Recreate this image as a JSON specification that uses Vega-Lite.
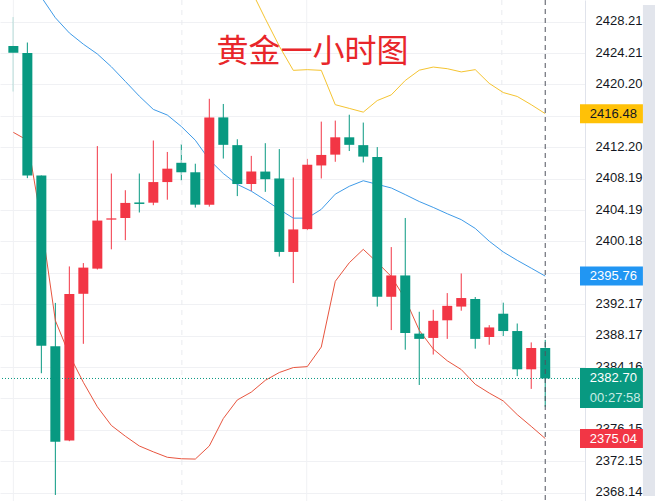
{
  "$schema": "https://vega.github.io/schema/vega-lite/v6.json",
  "width": 585,
  "height": 501,
  "autosize": {"type": "none"},
  "padding": {"left": 0, "top": 0, "right": 70, "bottom": 0},
  "background": "#ffffff",
  "config": {"view": {"stroke": null}, "font": "Liberation Sans", "axis": {"labelOverlap": false, "labelFlush": false, "labelBound": false}},
  "datasets": {
    "candles": [
      {"i": 0, "open": 2425.09, "high": 2428.80, "low": 2419.30, "close": 2424.25, "upper": 2457.84, "middle": 2435.96, "lower": 2414.09},
      {"i": 1, "open": 2424.21, "high": 2425.55, "low": 2408.25, "close": 2408.59, "upper": 2453.84, "middle": 2433.46, "lower": 2413.09},
      {"i": 2, "open": 2408.59, "high": 2408.59, "low": 2383.37, "close": 2386.87, "upper": 2460.09, "middle": 2431.34, "lower": 2402.59},
      {"i": 3, "open": 2386.80, "high": 2392.34, "low": 2367.84, "close": 2374.62, "upper": 2467.34, "middle": 2428.71, "lower": 2390.09},
      {"i": 4, "open": 2374.80, "high": 2396.99, "low": 2374.70, "close": 2393.46, "upper": 2467.84, "middle": 2426.77, "lower": 2385.71},
      {"i": 5, "open": 2393.50, "high": 2397.42, "low": 2387.12, "close": 2396.84, "upper": 2468.46, "middle": 2425.34, "lower": 2382.21},
      {"i": 6, "open": 2396.71, "high": 2412.34, "low": 2396.60, "close": 2402.84, "upper": 2469.09, "middle": 2424.09, "lower": 2379.09},
      {"i": 7, "open": 2402.96, "high": 2408.84, "low": 2399.17, "close": 2403.12, "upper": 2468.21, "middle": 2422.46, "lower": 2376.71},
      {"i": 8, "open": 2403.17, "high": 2406.71, "low": 2400.34, "close": 2405.09, "upper": 2465.84, "middle": 2420.59, "lower": 2375.34},
      {"i": 9, "open": 2405.15, "high": 2408.84, "low": 2403.87, "close": 2404.96, "upper": 2463.34, "middle": 2418.71, "lower": 2374.09},
      {"i": 10, "open": 2405.12, "high": 2413.05, "low": 2404.80, "close": 2407.75, "upper": 2460.71, "middle": 2417.02, "lower": 2373.34},
      {"i": 11, "open": 2407.75, "high": 2411.59, "low": 2405.50, "close": 2409.46, "upper": 2459.96, "middle": 2416.30, "lower": 2372.65},
      {"i": 12, "open": 2410.21, "high": 2412.59, "low": 2407.96, "close": 2409.00, "upper": 2457.21, "middle": 2414.84, "lower": 2372.46},
      {"i": 13, "open": 2409.00, "high": 2410.09, "low": 2404.50, "close": 2404.87, "upper": 2453.71, "middle": 2413.09, "lower": 2372.42},
      {"i": 14, "open": 2404.87, "high": 2418.37, "low": 2404.62, "close": 2416.00, "upper": 2447.09, "middle": 2410.59, "lower": 2374.09},
      {"i": 15, "open": 2416.00, "high": 2417.71, "low": 2410.75, "close": 2412.50, "upper": 2440.09, "middle": 2408.84, "lower": 2377.59},
      {"i": 16, "open": 2412.46, "high": 2413.21, "low": 2405.96, "close": 2407.50, "upper": 2434.96, "middle": 2407.46, "lower": 2379.96},
      {"i": 17, "open": 2407.50, "high": 2411.09, "low": 2406.59, "close": 2409.09, "upper": 2432.21, "middle": 2406.59, "lower": 2380.96},
      {"i": 18, "open": 2409.09, "high": 2412.71, "low": 2406.50, "close": 2408.12, "upper": 2428.59, "middle": 2405.46, "lower": 2382.46},
      {"i": 19, "open": 2408.21, "high": 2411.96, "low": 2398.25, "close": 2398.84, "upper": 2425.09, "middle": 2404.27, "lower": 2383.46},
      {"i": 20, "open": 2398.84, "high": 2408.34, "low": 2394.87, "close": 2401.71, "upper": 2422.00, "middle": 2403.15, "lower": 2384.09},
      {"i": 21, "open": 2401.75, "high": 2410.71, "low": 2401.62, "close": 2409.96, "upper": 2422.09, "middle": 2403.15, "lower": 2384.21},
      {"i": 22, "open": 2409.87, "high": 2415.46, "low": 2408.21, "close": 2411.21, "upper": 2422.00, "middle": 2404.27, "lower": 2386.71},
      {"i": 23, "open": 2411.25, "high": 2415.59, "low": 2410.34, "close": 2413.46, "upper": 2417.62, "middle": 2406.21, "lower": 2395.09},
      {"i": 24, "open": 2413.46, "high": 2416.34, "low": 2411.71, "close": 2412.50, "upper": 2417.15, "middle": 2407.21, "lower": 2397.46},
      {"i": 25, "open": 2412.46, "high": 2415.34, "low": 2410.25, "close": 2411.00, "upper": 2416.67, "middle": 2407.92, "lower": 2399.17},
      {"i": 26, "open": 2410.96, "high": 2412.21, "low": 2391.87, "close": 2393.12, "upper": 2418.15, "middle": 2407.46, "lower": 2397.50},
      {"i": 27, "open": 2393.12, "high": 2399.46, "low": 2388.87, "close": 2395.84, "upper": 2418.87, "middle": 2407.00, "lower": 2395.71},
      {"i": 28, "open": 2395.84, "high": 2403.17, "low": 2386.37, "close": 2388.50, "upper": 2420.71, "middle": 2406.15, "lower": 2392.84},
      {"i": 29, "open": 2388.42, "high": 2391.21, "low": 2381.87, "close": 2387.75, "upper": 2422.02, "middle": 2405.27, "lower": 2388.84},
      {"i": 30, "open": 2387.87, "high": 2391.46, "low": 2385.75, "close": 2390.05, "upper": 2422.42, "middle": 2404.52, "lower": 2386.46},
      {"i": 31, "open": 2390.12, "high": 2393.59, "low": 2387.75, "close": 2391.96, "upper": 2422.21, "middle": 2403.71, "lower": 2384.96},
      {"i": 32, "open": 2391.87, "high": 2396.09, "low": 2391.34, "close": 2392.96, "upper": 2421.80, "middle": 2402.96, "lower": 2383.84},
      {"i": 33, "open": 2392.84, "high": 2393.09, "low": 2386.50, "close": 2387.75, "upper": 2422.09, "middle": 2401.84, "lower": 2381.96},
      {"i": 34, "open": 2387.99, "high": 2389.50, "low": 2387.00, "close": 2389.21, "upper": 2420.34, "middle": 2400.21, "lower": 2380.84},
      {"i": 35, "open": 2390.96, "high": 2392.37, "low": 2388.12, "close": 2388.75, "upper": 2419.17, "middle": 2398.84, "lower": 2379.84},
      {"i": 36, "open": 2388.75, "high": 2389.71, "low": 2383.00, "close": 2383.87, "upper": 2418.67, "middle": 2397.77, "lower": 2378.09},
      {"i": 37, "open": 2383.87, "high": 2387.30, "low": 2381.37, "close": 2386.59, "upper": 2417.62, "middle": 2396.77, "lower": 2376.59},
      {"i": 38, "open": 2386.59, "high": 2387.62, "low": 2379.09, "close": 2382.70, "upper": 2416.48, "middle": 2395.76, "lower": 2375.04}
    ],
    "badges": [
      {"s": "upper", "v": 2416.48},
      {"s": "middle", "v": 2395.76},
      {"s": "lower", "v": 2375.04}
    ],
    "price": [
      {"s": "close", "v": 2382.70, "timer": "00:27:58"}
    ]
  },
  "layer": [
    {
      "data": {"name": "candles"},
      "mark": {"type": "rule", "strokeWidth": 1, "clip": true},
      "encoding": {
        "x": {"field": "i", "type": "quantitative", "scale": {"domain": [-0.597, 40.485], "nice": false, "zero": false}, "axis": null},
        "y": {
          "field": "low",
          "type": "quantitative",
          "scale": {"domain": [2367.71, 2430.335], "nice": false, "zero": false},
          "axis": {
            "orient": "right",
            "values": [2368.14, 2372.146, 2376.15, 2380.16, 2384.16, 2388.166, 2392.17, 2396.17, 2400.18, 2404.186, 2408.19, 2412.196, 2416.2, 2420.203, 2424.21, 2428.21],
            "tickCount": 40,
            "format": ".2f",
            "labelExpr": "indexof(['2416.20', '2396.17', '2380.16'], datum.label) >= 0 ? '' : datum.label",
            "title": null,
            "grid": true,
            "gridColor": "#f0f1f4",
            "ticks": false,
            "domain": true,
            "domainColor": "#e0e3eb",
            "labelPadding": 10,
            "labelOffset": -1,
            "labelFont": "Liberation Sans",
            "labelFontSize": 13,
            "labelColor": "#131722",
            "labelOverlap": false,
            "labelFlush": false,
            "labelBound": false
          }
        },
        "y2": {"field": "high"},
        "color": {"condition": {"test": "datum.close >= datum.open", "value": "#f23645"}, "value": "#089981"}
      }
    },
    {
      "data": {"values": [{"i": 0}, {"i": 20.96}]},
      "mark": {"type": "rule", "color": "#f0f1f4", "strokeWidth": 1},
      "encoding": {
        "x": {"field": "i", "type": "quantitative", "axis": null}
      }
    },
    {
      "data": {"values": [{"i": 12.04}, {"i": 34.9}]},
      "mark": {"type": "rule", "color": "#e9ebef", "strokeWidth": 1, "strokeDash": [5, 5]},
      "encoding": {
        "x": {"field": "i", "type": "quantitative", "axis": null}
      }
    },
    {
      "data": {"values": [{"t": "黄金一小时图"}]},
      "mark": {"type": "text", "font": "Noto Sans CJK SC", "fontSize": 32, "color": "#e8262a", "align": "center", "baseline": "middle"},
      "encoding": {
        "x": {"datum": 21.38, "type": "quantitative", "axis": null},
        "y": {"datum": 2424.4, "type": "quantitative"},
        "text": {"field": "t"}
      }
    },
    {
      "data": {"name": "candles"},
      "mark": {"type": "line", "color": "#f5c431", "strokeWidth": 1, "clip": true},
      "encoding": {
        "x": {"field": "i", "type": "quantitative", "axis": null},
        "y": {"field": "upper", "type": "quantitative"}
      }
    },
    {
      "data": {"name": "candles"},
      "mark": {"type": "line", "color": "#3f9be8", "strokeWidth": 1, "clip": true},
      "encoding": {
        "x": {"field": "i", "type": "quantitative", "axis": null},
        "y": {"field": "middle", "type": "quantitative"}
      }
    },
    {
      "data": {"name": "candles"},
      "mark": {"type": "line", "color": "#e8553f", "strokeWidth": 1, "clip": true},
      "encoding": {
        "x": {"field": "i", "type": "quantitative", "axis": null},
        "y": {"field": "lower", "type": "quantitative"}
      }
    },
    {
      "data": {"name": "candles"},
      "mark": {"type": "bar", "size": 10, "clip": true},
      "encoding": {
        "x": {"field": "i", "type": "quantitative", "axis": null},
        "y": {"field": "open", "type": "quantitative"},
        "y2": {"field": "close"},
        "color": {"condition": {"test": "datum.close >= datum.open", "value": "#f23645"}, "value": "#089981"}
      }
    },
    {
      "data": {"name": "price"},
      "mark": {"type": "rule", "color": "#089981", "strokeWidth": 1, "strokeDash": [1, 2]},
      "encoding": {
        "y": {"field": "v", "type": "quantitative"}
      }
    },
    {
      "data": {"values": [{"i": 38}]},
      "mark": {"type": "rule", "color": "#50535e", "strokeWidth": 1, "strokeDash": [5, 4]},
      "encoding": {
        "x": {"field": "i", "type": "quantitative", "axis": null}
      }
    },
    {
      "data": {"values": [{"k": 1}]},
      "mark": {"type": "rect", "color": "#e2e5ec"},
      "encoding": {
        "x": {"datum": 44.98, "type": "quantitative", "axis": null},
        "x2": {"datum": 46.5},
        "y": {"datum": 2367.71, "type": "quantitative"},
        "y2": {"datum": 2430.335}
      }
    },
    {
      "data": {"name": "badges"},
      "mark": {"type": "bar", "orient": "horizontal", "size": 19},
      "encoding": {
        "x": {"datum": 40.485, "type": "quantitative", "axis": null},
        "x2": {"datum": 44.98},
        "y": {"field": "v", "type": "quantitative"},
        "color": {"field": "s", "type": "nominal", "scale": {"domain": ["upper", "middle", "close", "lower"], "range": ["#ffc107", "#2196f3", "#089981", "#f23645"]}, "legend": null}
      }
    },
    {
      "data": {"name": "price"},
      "mark": {"type": "bar", "orient": "horizontal", "size": 40},
      "encoding": {
        "x": {"datum": 40.485, "type": "quantitative", "axis": null},
        "x2": {"datum": 44.98},
        "y": {"datum": 2381.5, "type": "quantitative"},
        "color": {"field": "s", "type": "nominal", "legend": null}
      }
    },
    {
      "data": {"name": "badges"},
      "mark": {"type": "text", "align": "left", "baseline": "middle", "font": "Liberation Sans", "fontSize": 13},
      "encoding": {
        "x": {"datum": 41.19, "type": "quantitative", "axis": null},
        "y": {"field": "v", "type": "quantitative"},
        "text": {"field": "v", "type": "quantitative", "format": ".2f"},
        "color": {"condition": {"test": "datum.s === 'upper'", "value": "#131722"}, "value": "#ffffff"}
      }
    },
    {
      "data": {"name": "price"},
      "mark": {"type": "text", "align": "left", "baseline": "middle", "font": "Liberation Sans", "fontSize": 13, "color": "#ffffff"},
      "encoding": {
        "x": {"datum": 41.19, "type": "quantitative", "axis": null},
        "y": {"field": "v", "type": "quantitative"},
        "text": {"field": "v", "type": "quantitative", "format": ".2f"}
      }
    },
    {
      "data": {"name": "price"},
      "mark": {"type": "text", "align": "left", "baseline": "middle", "font": "Liberation Sans", "fontSize": 13, "color": "#c8ece5", "dy": 20},
      "encoding": {
        "x": {"datum": 41.19, "type": "quantitative", "axis": null},
        "y": {"field": "v", "type": "quantitative"},
        "text": {"field": "timer"}
      }
    }
  ]
}
